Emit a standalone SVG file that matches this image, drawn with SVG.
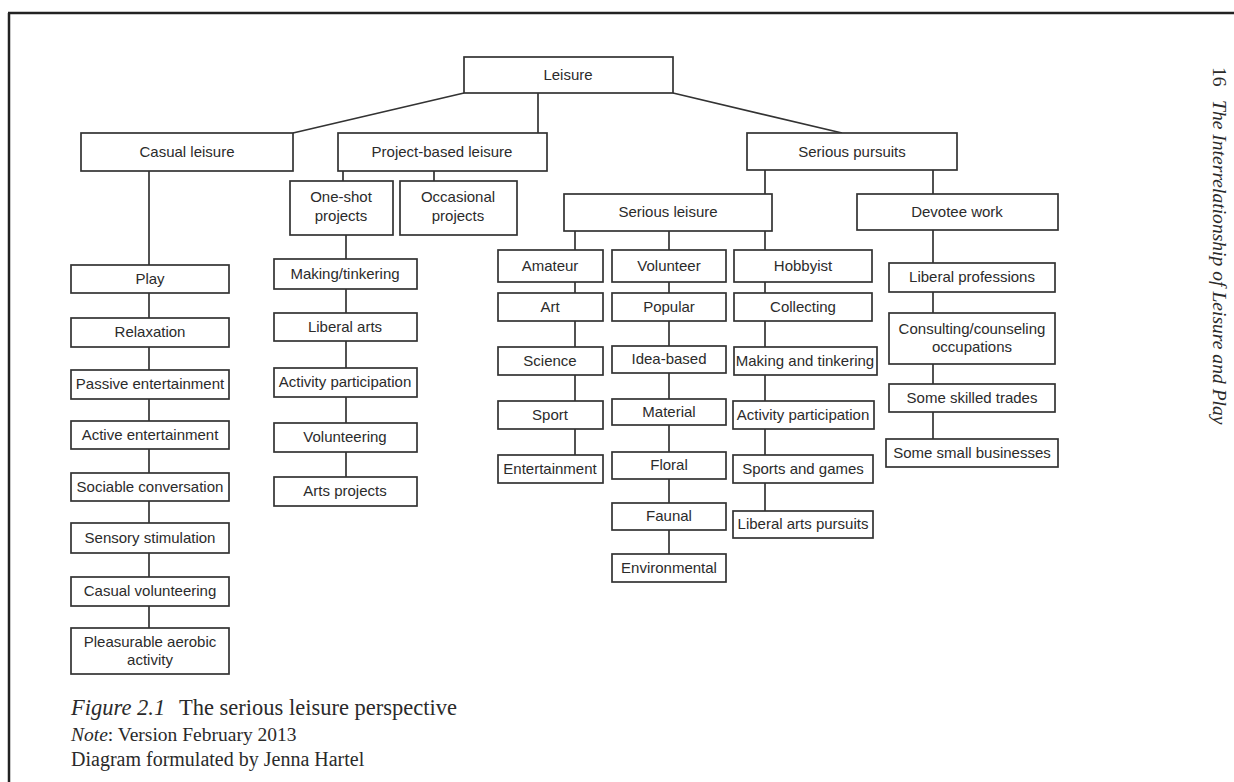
<svg xmlns="http://www.w3.org/2000/svg" width="1234" height="782" viewBox="0 0 1234 782">
<style>
.b{fill:#fff;stroke:#333;stroke-width:1.7}
.t{font-family:"Liberation Sans",Arial,sans-serif;font-size:15px;fill:#2b2b2b;text-anchor:middle}
.c{fill:none;stroke:#333;stroke-width:1.7}
.s{font-family:"Liberation Serif","Times New Roman",serif;fill:#2a2a2a}
</style>
<rect width="1234" height="782" fill="#fff"/>
<g id="page-frame">
<path d="M8,13 H1234 M9,13 V782" fill="none" stroke="#222" stroke-width="2.5"/>
</g>
<g id="connectors" class="c">
<path d="M464,93 L293,133"/>
<path d="M538,93 V133"/>
<path d="M673,93 L842,133"/>
<path d="M343,171 V181 M434,171 V181"/>
<path d="M346,235 V477"/>
<path d="M149,171 V628"/>
<path d="M765,170 V194 M933,170 V194"/>
<path d="M575,231 V455"/>
<path d="M669,231 V554"/>
<path d="M765,231 V511"/>
<path d="M933,230 V439"/>
</g>
<g id="leisure"><rect class="b" x="464" y="57" width="209" height="36"/><text class="t" x="568" y="80">Leisure</text></g>
<g id="casual-leisure"><rect class="b" x="81" y="133" width="212" height="38"/><text class="t" x="187" y="157">Casual leisure</text></g>
<g id="project-based-leisure"><rect class="b" x="338" y="133" width="209" height="38"/><text class="t" x="442" y="157">Project-based leisure</text></g>
<g id="serious-pursuits"><rect class="b" x="747" y="133" width="210" height="37"/><text class="t" x="852" y="157">Serious pursuits</text></g>
<g id="one-shot-projects"><rect class="b" x="290" y="181" width="103" height="54"/><text class="t" x="341" y="202">One-shot</text><text class="t" x="341" y="221">projects</text></g>
<g id="occasional-projects"><rect class="b" x="400" y="181" width="117" height="54"/><text class="t" x="458" y="202">Occasional</text><text class="t" x="458" y="221">projects</text></g>
<g id="serious-leisure"><rect class="b" x="564" y="194" width="208" height="37"/><text class="t" x="668" y="217">Serious leisure</text></g>
<g id="devotee-work"><rect class="b" x="857" y="194" width="201" height="36"/><text class="t" x="957" y="217">Devotee work</text></g>

<g id="play"><rect class="b" x="71" y="265" width="158" height="28"/><text class="t" x="150" y="284">Play</text></g>
<g id="relaxation"><rect class="b" x="71" y="318" width="158" height="29"/><text class="t" x="150" y="337">Relaxation</text></g>
<g id="passive-entertainment"><rect class="b" x="71" y="370" width="158" height="29"/><text class="t" x="150" y="389">Passive entertainment</text></g>
<g id="active-entertainment"><rect class="b" x="71" y="421" width="158" height="28"/><text class="t" x="150" y="440">Active entertainment</text></g>
<g id="sociable-conversation"><rect class="b" x="71" y="473" width="158" height="28"/><text class="t" x="150" y="492">Sociable conversation</text></g>
<g id="sensory-stimulation"><rect class="b" x="71" y="523" width="158" height="30"/><text class="t" x="150" y="543">Sensory stimulation</text></g>
<g id="casual-volunteering"><rect class="b" x="71" y="577" width="158" height="29"/><text class="t" x="150" y="596">Casual volunteering</text></g>
<g id="pleasurable-aerobic-activity"><rect class="b" x="71" y="628" width="158" height="46"/><text class="t" x="150" y="647">Pleasurable aerobic</text><text class="t" x="150" y="665">activity</text></g>

<g id="making-tinkering"><rect class="b" x="274" y="259" width="143" height="30"/><text class="t" x="345" y="279">Making/tinkering</text></g>
<g id="liberal-arts"><rect class="b" x="274" y="313" width="143" height="28"/><text class="t" x="345" y="332">Liberal arts</text></g>
<g id="activity-participation-pb"><rect class="b" x="274" y="368" width="143" height="29"/><text class="t" x="345" y="387">Activity participation</text></g>
<g id="volunteering"><rect class="b" x="274" y="423" width="143" height="29"/><text class="t" x="345" y="442">Volunteering</text></g>
<g id="arts-projects"><rect class="b" x="274" y="477" width="143" height="29"/><text class="t" x="345" y="496">Arts projects</text></g>

<g id="amateur"><rect class="b" x="498" y="250" width="105" height="32"/><text class="t" x="550" y="271">Amateur</text></g>
<g id="art"><rect class="b" x="498" y="293" width="105" height="28"/><text class="t" x="550" y="312">Art</text></g>
<g id="science"><rect class="b" x="498" y="347" width="105" height="28"/><text class="t" x="550" y="366">Science</text></g>
<g id="sport"><rect class="b" x="498" y="401" width="105" height="28"/><text class="t" x="550" y="420">Sport</text></g>
<g id="entertainment"><rect class="b" x="498" y="455" width="105" height="28"/><text class="t" x="550" y="474">Entertainment</text></g>

<g id="volunteer"><rect class="b" x="612" y="250" width="114" height="32"/><text class="t" x="669" y="271">Volunteer</text></g>
<g id="popular"><rect class="b" x="612" y="293" width="114" height="28"/><text class="t" x="669" y="312">Popular</text></g>
<g id="idea-based"><rect class="b" x="612" y="346" width="114" height="27"/><text class="t" x="669" y="364">Idea-based</text></g>
<g id="material"><rect class="b" x="612" y="399" width="114" height="26"/><text class="t" x="669" y="417">Material</text></g>
<g id="floral"><rect class="b" x="612" y="452" width="114" height="27"/><text class="t" x="669" y="470">Floral</text></g>
<g id="faunal"><rect class="b" x="612" y="503" width="114" height="27"/><text class="t" x="669" y="521">Faunal</text></g>
<g id="environmental"><rect class="b" x="612" y="554" width="114" height="28"/><text class="t" x="669" y="573">Environmental</text></g>

<g id="hobbyist"><rect class="b" x="734" y="250" width="138" height="32"/><text class="t" x="803" y="271">Hobbyist</text></g>
<g id="collecting"><rect class="b" x="734" y="293" width="138" height="28"/><text class="t" x="803" y="312">Collecting</text></g>
<g id="making-and-tinkering"><rect class="b" x="734" y="347" width="143" height="28"/><text class="t" x="805" y="366">Making and tinkering</text></g>
<g id="activity-participation-hb"><rect class="b" x="733" y="401" width="141" height="28"/><text class="t" x="803" y="420">Activity participation</text></g>
<g id="sports-and-games"><rect class="b" x="733" y="455" width="140" height="28"/><text class="t" x="803" y="474">Sports and games</text></g>
<g id="liberal-arts-pursuits"><rect class="b" x="733" y="511" width="140" height="27"/><text class="t" x="803" y="529">Liberal arts pursuits</text></g>

<g id="liberal-professions"><rect class="b" x="889" y="263" width="166" height="29"/><text class="t" x="972" y="282">Liberal professions</text></g>
<g id="consulting-counseling"><rect class="b" x="889" y="313" width="166" height="51"/><text class="t" x="972" y="334">Consulting/counseling</text><text class="t" x="972" y="352">occupations</text></g>
<g id="some-skilled-trades"><rect class="b" x="889" y="384" width="166" height="28"/><text class="t" x="972" y="403">Some skilled trades</text></g>
<g id="some-small-businesses"><rect class="b" x="886" y="439" width="172" height="28"/><text class="t" x="972" y="458">Some small businesses</text></g>

<g id="caption">
<text class="s" x="71" y="715" font-size="22.5"><tspan font-style="italic">Figure 2.1</tspan><tspan x="179">The serious leisure perspective</tspan></text>
<text class="s" x="71" y="741" font-size="19.5"><tspan font-style="italic">Note</tspan>: Version February 2013</text>
<text class="s" x="71" y="766" font-size="20">Diagram formulated by Jenna Hartel</text>
</g>
<g id="running-head">
<text class="s" font-size="19.6" transform="translate(1213,67) rotate(90)">16<tspan x="33" font-style="italic">The Interrelationship of Leisure and Play</tspan></text>
</g>
</svg>
